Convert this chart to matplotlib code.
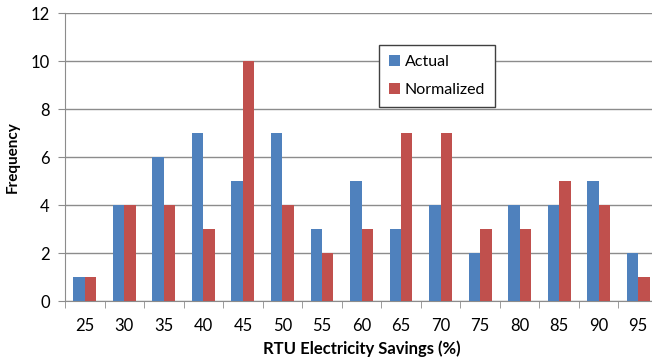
import numpy as np
import matplotlib.pyplot as plt

savings = [25, 30, 35, 40, 45, 50, 55, 60, 65, 70, 75, 80, 85, 90, 95]
actual = [1, 4, 6, 7, 5, 7, 3, 5, 3, 4, 2, 4, 4, 5, 2]
normalized = [1, 4, 4, 3, 10, 4, 2, 3, 7, 7, 3, 3, 5, 4, 1]

plt.rcParams['font.family'] = ['Lato', 'DejaVu Sans']

fig = plt.figure(figsize=(6.52, 3.6), dpi=100)
ax = fig.add_axes([65 / 652, 1 - 301 / 360, 593 / 652, 288 / 360])

x = np.arange(len(savings))
w = 0.29
ax.bar(x - w / 2, actual, w, color='#4F81BD', label='Actual', zorder=3)
ax.bar(x + w / 2, normalized, w, color='#C0504D', label='Normalized', zorder=3)

ax.set_xlim(-0.5, len(savings) - 0.5)
ax.set_ylim(0, 12)
ax.set_yticks(range(0, 13, 2))
ax.yaxis.grid(True, color='#8c8c8c', linewidth=1, zorder=0)

# category labels centred, tick marks between categories
ax.set_xticks(x)
ax.set_xticklabels([str(s) for s in savings], fontsize=12)
ax.set_xticks(np.arange(-0.5, len(savings), 1), minor=True)
ax.tick_params(axis='x', which='major', length=0, pad=12)
ax.tick_params(axis='x', which='minor', length=5, color='#8c8c8c', direction='out')
ax.tick_params(axis='y', labelsize=12, length=5, color='#8c8c8c', pad=6)

for s in ['top', 'right']:
    ax.spines[s].set_visible(False)
ax.spines['left'].set_color('#8c8c8c')
ax.spines['bottom'].set_color('#8c8c8c')

ax.set_xlabel('RTU Electricity Savings (%)', fontsize=12, fontweight='bold', labelpad=5)
ax.set_ylabel('Frequency', fontsize=11, fontweight='bold', labelpad=8)

leg = ax.legend(loc='upper left', bbox_to_anchor=((379 - 65) / 593, (301 - 45) / 288),
                borderaxespad=0, fontsize=11.5, frameon=True, fancybox=False,
                handlelength=0.7, handleheight=0.7, handletextpad=0.3,
                borderpad=0.6, labelspacing=0.9)
leg.get_frame().set_edgecolor('#404040')
leg.get_frame().set_linewidth(1)
leg.get_frame().set_alpha(1)

fig.savefig('out.png', dpi=100)
